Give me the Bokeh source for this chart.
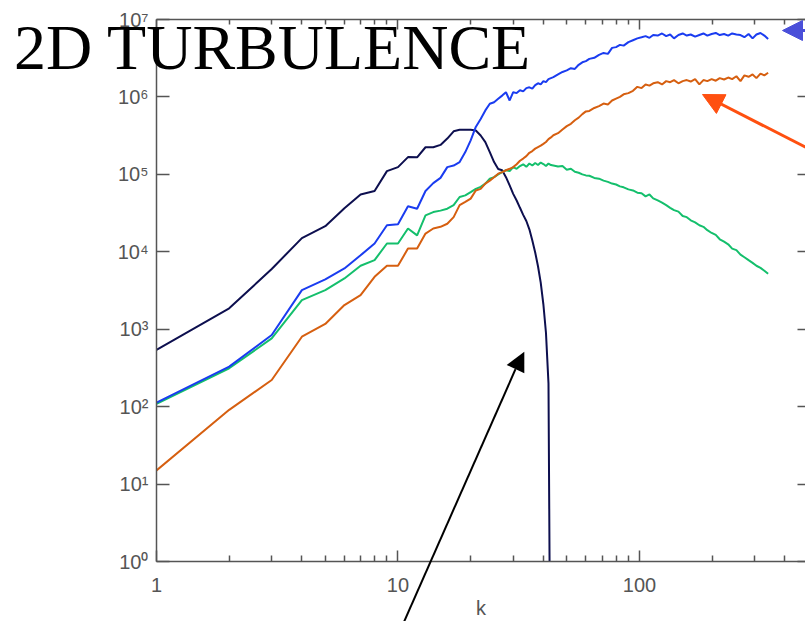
from bokeh.plotting import figure
from bokeh.models import FixedTicker, LogAxis, Arrow, NormalHead, Range1d, Div
from bokeh.layouts import column
from bokeh.embed import file_html
from bokeh.resources import INLINE

# ---------------- data ----------------
k_low = list(range(1, 44))
k_high = [44, 46, 48, 50, 52, 54, 56, 58, 60, 62,
          65, 68, 71, 74, 77, 80, 83, 86, 90, 94,
          98, 102, 106, 110, 114, 119, 124, 129, 134, 139,
          145, 151, 157, 163, 170, 177, 184, 191, 199, 207,
          215, 224, 233, 242, 252, 262, 272, 283, 294, 305,
          317, 329, 341]
k_all = k_low + k_high

dark_k = list(range(1, 44))
dark_vals = [540, 1860, 6000, 15000, 21400, 36500, 55000, 61000, 110000, 124000,
             167000, 166000, 224000, 224000, 240000, 290000, 360000, 377000, 377000, 377000,
             369000, 318000, 261000, 194000, 144000, 117000, 113000, 92000, 72000, 56000,
             46000, 37000, 30000, 25000, 19500, 14000, 9800, 6500, 4000, 2100,
             900, 200, 0.001]

blue_vals = [113, 329, 842, 3200, 4400, 6100, 9000, 12800, 22000, 22700,
             38700, 36000, 61000, 77000, 90000, 124000, 130000, 144000, 194000, 275000,
             410000, 520000, 670000, 815000, 855000, 945000, 1.04e6, 1.15e6, 0.9e6, 1.15e6,
             1.12e6, 1.22e6, 1.18e6, 1.3e6, 1.33e6, 1.28e6, 1.42e6, 1.5e6, 1.45e6, 1.6e6,
             1.55e6, 1.7e6, 1.75e6,
             1.8e6, 1.95e6, 2.1e6, 2.2e6, 2.35e6, 2.3e6, 2.6e6, 2.8e6, 2.9e6, 3.1e6,
             3.2e6, 3.5e6, 3.7e6, 3.6e6, 4.3e6, 4.4e6, 4.7e6, 4.6e6, 5.1e6, 5.4e6,
             5.7e6, 5.9e6, 6.1e6, 5.8e6, 6.3e6, 6.2e6, 6.6e6, 6.1e6, 6.4e6, 5.7e6,
             6.3e6, 6.6e6, 6.2e6, 6.4e6, 6.0e6, 6.3e6, 6.6e6, 6.2e6, 6.5e6, 6.7e6,
             6.3e6, 6.5e6, 6.2e6, 6.6e6, 6.4e6, 6.3e6, 5.9e6, 6.5e6, 5.7e6, 6.4e6,
             6.7e6, 6.2e6, 5.6e6]

orange_vals = [15, 91, 221, 800, 1170, 2050, 2760, 4750, 6600, 6600,
               11000, 11000, 17200, 20000, 21000, 23000, 28000, 40000, 44000, 48600,
               62000, 65000, 76000, 83000, 92000, 102000, 107000, 113000, 118000, 124000,
               135000, 150000, 160000, 172000, 190000, 200000, 215000, 225000, 235000, 248000,
               262000, 285000, 300000,
               320000, 340000, 380000, 420000, 450000, 500000, 540000, 600000, 650000, 660000,
               720000, 760000, 820000, 800000, 900000, 950000, 1.0e6, 1.08e6, 1.12e6, 1.2e6,
               1.35e6, 1.3e6, 1.45e6, 1.4e6, 1.5e6, 1.55e6, 1.45e6, 1.6e6, 1.55e6, 1.65e6,
               1.5e6, 1.6e6, 1.65e6, 1.58e6, 1.7e6, 1.45e6, 1.65e6, 1.6e6, 1.7e6, 1.62e6,
               1.75e6, 1.68e6, 1.78e6, 1.7e6, 1.85e6, 1.6e6, 1.9e6, 1.82e6, 1.95e6, 1.75e6,
               2.0e6, 1.9e6, 2.05e6]

green_vals = [109, 313, 760, 2380, 3200, 4530, 6600, 7800, 12800, 12800,
              20000, 16300, 29500, 32600, 34000, 36000, 40000, 51000, 53500, 59000,
              65000, 69000, 76000, 88000, 92000, 100000, 107000, 113000, 110000, 124000,
              118000, 128000, 135000, 125000, 138000, 130000, 140000, 132000, 142000, 136000,
              128000, 138000, 132000,
              130000, 126000, 128000, 115000, 118000, 108000, 105000, 100000, 97000, 96000,
              90000, 88000, 83000, 80000, 76000, 74000, 70000, 68000, 64000, 62000,
              58000, 57000, 52000, 55000, 49000, 46000, 43000, 40000, 37000, 34500,
              33000, 29000, 28000, 25500, 24000, 22000, 21000, 19000, 17500, 16500,
              14500, 13500, 12500, 11000, 10500, 9200, 8500, 7800, 7200, 6600,
              6200, 5700, 5200]

x_major = [1, 10, 100]
x_minor = [2, 3, 4, 5, 6, 7, 8, 9, 20, 30, 40, 50, 60, 70, 80, 90, 200, 300, 400]
x_labels = {1: "1", 10: "10", 100: "100"}
y_major = [1, 10, 100, 1000, 10000, 100000, 1000000, 10000000]
y_labels = {1: "10⁰", 10: "10¹", 100: "10²", 1000: "10³", 10000: "10⁴",
            100000: "10⁵", 1000000: "10⁶", 10000000: "10⁷"}
title_text = "2D TURBULENCE"

# ---------------- figure ----------------
AX = "#555555"
FONT = "Liberation Sans"

p = figure(width=805, height=621, x_axis_type="log", y_axis_type="log",
           x_range=Range1d(1, 487), y_range=Range1d(1, 1e7),
           output_backend="svg", toolbar_location=None,
           min_border_left=156, min_border_right=0, min_border_top=19, min_border_bottom=59)
p.grid.visible = False
p.outline_line_color = None
p.background_fill_color = "white"
p.border_fill_color = "white"

xt = FixedTicker(ticks=x_major, minor_ticks=x_minor)
yt = FixedTicker(ticks=y_major, minor_ticks=[])

xa = p.xaxis[0]
xa.ticker = xt
xa.major_label_overrides = x_labels
xa.axis_label = "k"
ya = p.yaxis[0]
ya.ticker = yt
ya.major_label_overrides = y_labels

for ax in (xa, ya):
    ax.axis_line_color = AX
    ax.axis_line_width = 1.5
    ax.major_tick_line_color = AX
    ax.major_tick_line_width = 1.5
    ax.minor_tick_line_color = AX
    ax.minor_tick_line_width = 1.5
    ax.major_tick_out = 0
    ax.minor_tick_out = 0
    ax.major_label_text_font = FONT
    ax.major_label_text_font_size = "20px"
    ax.major_label_text_color = AX
    ax.axis_label_text_font = FONT
    ax.axis_label_text_font_size = "20px"
    ax.axis_label_text_color = AX
    ax.axis_label_text_font_style = "normal"

xa.major_tick_in = 11
xa.minor_tick_in = 6
xa.major_label_standoff = 16
xa.axis_label_standoff = 2
ya.major_tick_in = 13
ya.major_label_standoff = 8

top = LogAxis(ticker=xt, axis_line_color=AX, axis_line_width=1.5,
              major_tick_line_color=AX, major_tick_line_width=1.5,
              minor_tick_line_color=AX, minor_tick_line_width=1.5,
              major_tick_in=10, major_tick_out=0, minor_tick_in=5, minor_tick_out=0,
              major_label_text_font_size="0px", major_label_standoff=0)
top.major_label_overrides = {1: "", 10: "", 100: ""}
p.add_layout(top, "above")

right = LogAxis(ticker=yt, axis_line_color=None,
                major_tick_line_color=AX, major_tick_line_width=1.5,
                major_tick_in=8, major_tick_out=0,
                major_label_text_font_size="0px", major_label_standoff=0)
right.major_label_overrides = {v: "" for v in y_major}
p.add_layout(right, "right")

# ---------------- curves ----------------
p.line(dark_k, dark_vals, line_color="#0d0f4f", line_width=2)
p.line(k_all, green_vals, line_color="#14bf6c", line_width=2)
p.line(k_all, orange_vals, line_color="#d65f10", line_width=2)
p.line(k_all, blue_vals, line_color="#1a3cf0", line_width=2)

# ---------------- annotations ----------------
p.add_layout(Arrow(x_start=724, y_start=376, x_end=546, y_end=467,
                   start_units="screen", end_units="screen",
                   line_color="#ff5010", line_width=3,
                   end=NormalHead(size=21, fill_color="#ff5010", line_color="#ff5010", line_width=1)))
p.add_layout(Arrow(x_start=744, y_start=531, x_end=626, y_end=531,
                   start_units="screen", end_units="screen",
                   line_color="#4a4fd9", line_width=3,
                   end=NormalHead(size=20, fill_color="#4a4fd9", line_color="#4a4fd9", line_width=1)))

# overlay: title text and the black pointer arrow that runs out of the plot frame
title_div = Div(text=title_text, width=530, height=70,
                styles={"position": "absolute", "left": "14px", "top": "16px", "z-index": "10",
                        "font-family": "Liberation Serif", "font-size": "64px",
                        "line-height": "64px", "color": "black", "white-space": "nowrap",
                        "margin": "0", "padding": "0", "pointer-events": "none"})

arrow_svg = ('<svg width="805" height="621" xmlns="http://www.w3.org/2000/svg">'
             '<line x1="396" y1="640" x2="515.5" y2="369.2" stroke="black" stroke-width="2"/>'
             '<polygon points="524.3,351.7 506.7,365 524.3,373.3" fill="black"/>'
             '</svg>')
arrow_div = Div(text=arrow_svg, width=805, height=621,
                styles={"position": "absolute", "left": "0px", "top": "0px", "z-index": "9",
                        "margin": "0", "padding": "0", "pointer-events": "none"})

layout = column(p, arrow_div, title_div, spacing=0)

open("out.html", "w").write(file_html(layout, INLINE))
